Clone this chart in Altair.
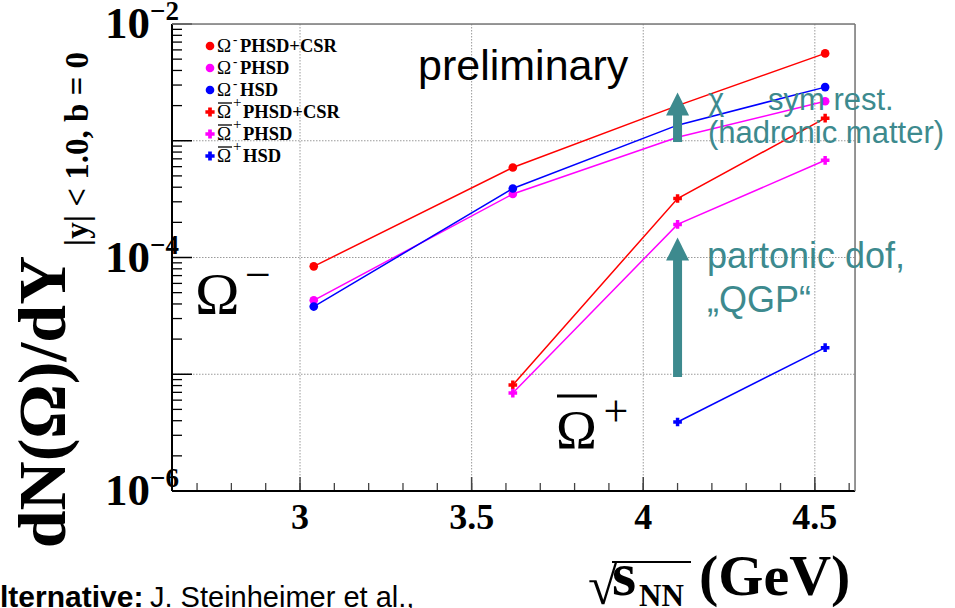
import altair as alt
import pandas as pd

# sqrt(s_NN) in GeV for each simulated beam energy
energy = [3.04, 3.62, 4.10, 4.53]
energy_bar = [3.62, 4.10, 4.53]
energy_bar_hsd = [4.10, 4.53]

# dN/dY at midrapidity, central collisions
omega_m_phsd_csr = [8.4e-5, 5.9e-4, 2.0e-3, 5.6e-3]
omega_m_phsd = [4.3e-5, 3.5e-4, 1.07e-3, 2.18e-3]
omega_m_hsd = [3.8e-5, 3.9e-4, 1.36e-3, 2.88e-3]
omega_p_phsd_csr = [8.1e-6, 3.2e-4, 1.56e-3]
omega_p_phsd = [6.9e-6, 1.92e-4, 6.8e-4]
omega_p_hsd = [3.9e-6, 1.69e-5]

series_labels = [
    "Ω- PHSD+CSR", "Ω- PHSD", "Ω- HSD",
    "anti-Ω+ PHSD+CSR", "anti-Ω+ PHSD", "anti-Ω+ HSD",
]
model_names = ["PHSD+CSR", "PHSD", "HSD", "PHSD+CSR", "PHSD", "HSD"]
series_colors = ["#ff0000", "#ff00ff", "#0000ff", "#ff0000", "#ff00ff", "#0000ff"]
series_shapes = ["circle", "circle", "circle", "cross", "cross", "cross"]

x_major = [3.0, 3.5, 4.0, 4.5]
x_major_labels = ["3", "3.5", "4", "4.5"]
x_minor = [round(2.7 + 0.1 * i, 2) for i in range(20)]
y_major = [1e-6, 1e-5, 1e-4, 1e-3, 1e-2]
y_labeled = [1e-6, 1e-4, 1e-2]
y_exponents = ["−6", "−4", "−2"]
y_grid = [1e-5, 1e-4, 1e-3]
y_minor = [k * 10.0 ** e for e in range(-6, -2) for k in range(2, 10)]

W, H = 683, 467
SERIF = "Liberation Serif"
SANS = "Liberation Sans"
TEAL = "#3d8a8e"

rows = []
for lab, xs_, ys_ in zip(
    series_labels,
    [energy, energy, energy, energy_bar, energy_bar, energy_bar_hsd],
    [omega_m_phsd_csr, omega_m_phsd, omega_m_hsd, omega_p_phsd_csr, omega_p_phsd, omega_p_hsd],
):
    for a, b in zip(xs_, ys_):
        rows.append({"series": lab, "energy": a, "dndy": b})
df = pd.DataFrame(rows)

xsc = alt.Scale(domain=[2.627, 4.617], nice=False, zero=False)
ysc = alt.Scale(type="log", domain=[1e-6, 1e-2], nice=False)
csc = alt.Scale(domain=series_labels, range=series_colors)
ssc = alt.Scale(domain=series_labels, range=series_shapes)


def one():
    return alt.Chart(pd.DataFrame({"k": [0]}))


def text(t, x, y, **kw):
    return one().mark_text(**kw).encode(x=alt.value(x), y=alt.value(y), text=alt.value(t))


def hline(x1, x2, y, **kw):
    return one().mark_rule(**kw).encode(x=alt.value(x1), x2=alt.value(x2), y=alt.value(y))


# gridlines
vgrid = alt.Chart(pd.DataFrame({"gx": x_major})).mark_rule(
    color="#9a9a9a", strokeDash=[1.5, 1.5], strokeWidth=1
).encode(x=alt.X("gx:Q", scale=xsc, axis=None), y=alt.value(0), y2=alt.value(H))
hgrid = alt.Chart(pd.DataFrame({"gy": y_grid})).mark_rule(
    color="#9a9a9a", strokeDash=[1.5, 1.5], strokeWidth=1
).encode(y=alt.Y("gy:Q", scale=ysc, axis=None), x=alt.value(0), x2=alt.value(W))

# ticks drawn inward from the left and bottom frame
ymaj_t = alt.Chart(pd.DataFrame({"ty": y_major})).mark_rule(color="black", strokeWidth=1.5).encode(
    y=alt.Y("ty:Q", scale=ysc, axis=None), x=alt.value(0), x2=alt.value(20))
ymin_t = alt.Chart(pd.DataFrame({"ty": y_minor})).mark_rule(color="black", strokeWidth=1.3).encode(
    y=alt.Y("ty:Q", scale=ysc, axis=None), x=alt.value(0), x2=alt.value(10))
xmaj_t = alt.Chart(pd.DataFrame({"tx": x_major})).mark_rule(color="#444", strokeWidth=1.5).encode(
    x=alt.X("tx:Q", scale=xsc, axis=None), y=alt.value(H), y2=alt.value(H - 14))
xmin_t = alt.Chart(pd.DataFrame({"tx": x_minor})).mark_rule(color="#444", strokeWidth=1.3).encode(
    x=alt.X("tx:Q", scale=xsc, axis=None), y=alt.value(H), y2=alt.value(H - 8))

# frame
frame = [
    one().mark_rule(color="black", strokeWidth=2).encode(x=alt.value(0), y=alt.value(0), y2=alt.value(H)),
    hline(0, W, H, color="black", strokeWidth=2),
    hline(0, W, 0, color="#777", strokeWidth=1.5),
    one().mark_rule(color="#777", strokeWidth=1.5).encode(x=alt.value(W), y=alt.value(0), y2=alt.value(H)),
]

lines = alt.Chart(df).mark_line(strokeWidth=1.5).encode(
    x=alt.X("energy:Q", scale=xsc, axis=None),
    y=alt.Y("dndy:Q", scale=ysc, axis=None),
    stroke=alt.Stroke("series:N", scale=csc, legend=None),
    detail="series:N",
    order="energy:Q",
)
points = alt.Chart(df).mark_point(filled=True, opacity=1, size=75, strokeWidth=0).encode(
    x=alt.X("energy:Q", scale=xsc, axis=None),
    y=alt.Y("dndy:Q", scale=ysc, axis=None),
    color=alt.Color("series:N", scale=csc, legend=None),
    shape=alt.Shape("series:N", scale=ssc, legend=None),
)

# legend box in the upper left of the frame
legend_layers = []
for i, (name, col, shp) in enumerate(zip(model_names, series_colors, series_shapes)):
    ry = 22 + 22 * i
    anti = shp == "cross"
    legend_layers.append(
        one().mark_point(shape=shp, filled=True, opacity=1, size=85 if anti else 75, strokeWidth=0, color=col)
        .encode(x=alt.value(38), y=alt.value(ry))
    )
    legend_layers.append(text("Ω", 45, ry + 6, font=SERIF, fontSize=19, align="left",
                              baseline="alphabetic", color="black"))
    if anti:
        legend_layers.append(hline(46, 60, ry - 9, color="black", strokeWidth=1.3))
        legend_layers.append(text("+", 61, ry - 10, font=SERIF, fontSize=15, align="left",
                                  baseline="middle", color="black"))
        legend_layers.append(text(name, 71, ry + 6, font=SERIF, fontSize=18.5, fontWeight="bold",
                                  align="left", baseline="alphabetic", color="black"))
    else:
        legend_layers.append(text("-", 61, ry - 6, font=SERIF, fontSize=13, fontWeight="bold",
                                  align="left", baseline="middle", color="black"))
        legend_layers.append(text(name, 68, ry + 6, font=SERIF, fontSize=18.5, fontWeight="bold",
                                  align="left", baseline="alphabetic", color="black"))

# tick labels placed through the scales
xlab = alt.Chart(pd.DataFrame({"lx": x_major, "t": x_major_labels})).mark_text(
    font=SERIF, fontWeight="bold", fontSize=36, baseline="middle", align="center"
).encode(x=alt.X("lx:Q", scale=xsc, axis=None), y=alt.value(H + 27), text="t:N")
ylab = alt.Chart(pd.DataFrame({"ly": y_labeled})).mark_text(
    font=SERIF, fontWeight="bold", fontSize=45, baseline="middle", align="right"
).encode(y=alt.Y("ly:Q", scale=ysc, axis=None), x=alt.value(-22), text=alt.value("10"))
yexp = alt.Chart(pd.DataFrame({"ly": y_labeled, "t": y_exponents})).mark_text(
    font=SERIF, fontWeight="bold", fontSize=27, baseline="middle", align="left", dy=-12
).encode(y=alt.Y("ly:Q", scale=ysc, axis=None), x=alt.value(-22), text="t:N")

# arrows marking the enhancement
arrow_shafts = alt.Chart(pd.DataFrame({
    "ax": [4.10, 4.10], "lo": [9.75e-4, 9.46e-6], "hi": [1.7e-3, 1.02e-4]
})).mark_rule(color=TEAL, strokeWidth=9).encode(
    x=alt.X("ax:Q", scale=xsc, axis=None),
    y=alt.Y("lo:Q", scale=ysc, axis=None), y2="hi:Q")
arrow_heads = alt.Chart(pd.DataFrame({"ax": [4.10, 4.10], "ay": [2.06e-3, 1.18e-4]})).mark_point(
    shape="M0,-1L1,1L-1,1Z", filled=True, opacity=1, color=TEAL, size=530, strokeWidth=0
).encode(x=alt.X("ax:Q", scale=xsc, axis=None), y=alt.Y("ay:Q", scale=ysc, axis=None))

annotations = [
    text("preliminary", 246, 56, font=SANS, fontSize=43, align="left", baseline="alphabetic", color="black"),
    text("Ω", 23, 290, font=SERIF, fontSize=60, align="left", baseline="alphabetic", color="black"),
    text("−", 73, 252, font=SERIF, fontSize=46, align="left", baseline="middle", color="black"),
    text("Ω", 384, 424, font=SERIF, fontSize=55, align="left", baseline="alphabetic", color="black"),
    hline(385, 425, 372, color="black", strokeWidth=3),
    text("+", 444, 389, font=SERIF, fontSize=44, align="center", baseline="middle", color="black"),
    text("χ", 536, 86, font=SANS, fontSize=31, align="left", baseline="alphabetic", color=TEAL),
    text("sym rest.", 596, 86, font=SANS, fontSize=31, align="left", baseline="alphabetic", color=TEAL),
    text("(hadronic matter)", 536, 119, font=SANS, fontSize=31, align="left", baseline="alphabetic", color=TEAL),
    text("partonic dof,", 535, 244, font=SANS, fontSize=36, align="left", baseline="alphabetic", color=TEAL),
    text("„QGP“", 535, 288, font=SANS, fontSize=36, align="left", baseline="alphabetic", color=TEAL),
    # axis titles
    text("dN(Ω)/dY", -127, 378, font=SERIF, fontSize=68, fontWeight="bold", angle=270,
         align="center", baseline="middle", color="black"),
    text("|y| < 1.0, b = 0", -94, 125, font=SERIF, fontSize=33, fontWeight="bold", angle=270,
         align="center", baseline="middle", color="black"),
    text("√", 416, 580, font=SERIF, fontSize=54, align="left", baseline="alphabetic", color="black"),
    hline(440, 519, 538, color="black", strokeWidth=2),
    text("s", 440, 571, font=SERIF, fontSize=62, fontWeight="bold", align="left", baseline="alphabetic", color="black"),
    text("NN", 467, 582, font=SERIF, fontSize=31, fontWeight="bold", align="left", baseline="alphabetic", color="black"),
    text("(GeV)", 527, 571, font=SERIF, fontSize=58, fontWeight="bold", align="left", baseline="alphabetic", color="black"),
    # reference line at the bottom
    text("lternative:", -172, 583, font=SANS, fontSize=30, fontWeight="bold", align="left", baseline="alphabetic", color="black"),
    text("J. Steinheimer et al.,", -22, 583, font=SANS, fontSize=29, align="left", baseline="alphabetic", color="black"),
]

chart = alt.layer(
    vgrid, hgrid, ymaj_t, ymin_t, xmaj_t, xmin_t, *frame,
    lines, points, arrow_shafts, arrow_heads, xlab, ylab, yexp, *legend_layers, *annotations,
).properties(
    width=W, height=H,
    autosize=alt.AutoSizeParams(type="none"),
    padding={"left": 172, "top": 24, "right": 100, "bottom": 117},
).configure_view(stroke=None).configure(background="white")

chart.save("out.html", embed_options={"renderer": "svg", "actions": False})
